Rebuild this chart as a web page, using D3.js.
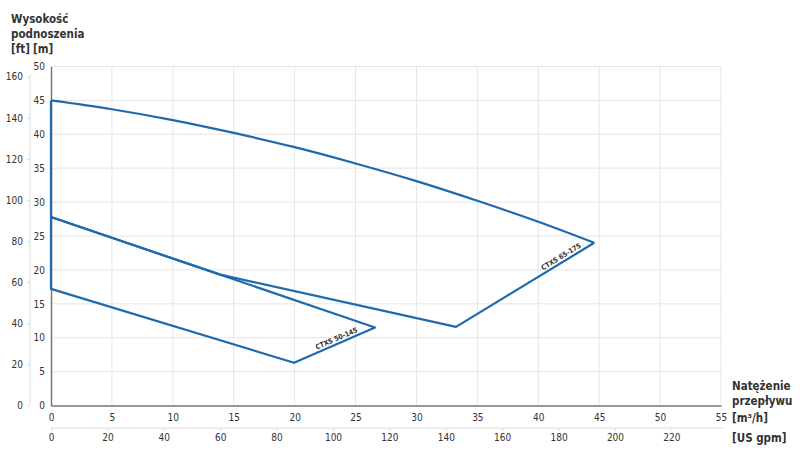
<!DOCTYPE html>
<html>
<head>
<meta charset="utf-8">
<script src="https://cdn.jsdelivr.net/npm/d3@7"></script>
<style>
  body { margin: 0; background: #fff; }
  svg { display: block; }
  text { font-family: "Liberation Sans Narrow", "DejaVu Sans Condensed", "Liberation Sans", sans-serif; fill: #333; }
</style>
</head>
<body>
<svg id="chart" width="800" height="462"></svg>
<script>
// ---- data ----
const flowTicks = [0, 5, 10, 15, 20, 25, 30, 35, 40, 45, 50, 55];      // m3/h
const headTicks = [0, 5, 10, 15, 20, 25, 30, 35, 40, 45, 50];          // m
const ftTicks = [0, 20, 40, 60, 80, 100, 120, 140, 160];               // ft
const gpmTicks = [0, 20, 40, 60, 80, 100, 120, 140, 160, 180, 200, 220]; // US gpm
const FT_PER_M = 3.3;
const GPM_PER_M3H = 4.32;

// CTXS 65-175 top curve (flow m3/h, head m)
const curve65Flow = [0, 5, 10, 15, 20, 25, 30, 35, 40, 44.6];
const curve65Head = [45, 43.7, 42.1, 40.2, 38.1, 35.7, 33.1, 30.2, 27.1, 24.0];
// CTXS 65-175 remaining outline
const outline65Flow = [44.6, 33.25, 13.9, 0, 0];
const outline65Head = [24.0, 11.6, 19.3, 27.8, 45];
// CTXS 50-145 outline
const outline50Flow = [0, 26.6, 19.95, 0, 0];
const outline50Head = [27.8, 11.5, 6.3, 17.2, 27.8];

const labels = ["CTXS 65-175", "CTXS 50-145"];

// ---- layout ----
const svg = d3.select("#chart");
const x0 = 51, x1 = 721, y0 = 405.5, y1 = 66.5;
const x = d3.scaleLinear().domain([0, 55]).range([x0, x1]);
const y = d3.scaleLinear().domain([0, 50]).range([y0, y1]);
const yFt = d3.scaleLinear().domain([0, 50 * FT_PER_M]).range([y0, y1]);
const xGpm = d3.scaleLinear().domain([0, 55 * GPM_PER_M3H]).range([x0, x1]);

const blue = "#1f6aad";

// grid
const grid = svg.append("g");
grid.selectAll("line.v").data(flowTicks.filter(d => d > 0)).join("line")
  .attr("x1", d => x(d)).attr("x2", d => x(d)).attr("y1", y(50)).attr("y2", y(0))
  .attr("stroke", "#e6e6e6").attr("stroke-width", 1);
grid.selectAll("line.h").data(headTicks.filter(d => d > 0)).join("line")
  .attr("x1", x(0)).attr("x2", x(55)).attr("y1", d => y(d)).attr("y2", d => y(d))
  .attr("stroke", "#e6e6e6").attr("stroke-width", 1);

// m axis
const yAxis = svg.append("g").attr("transform", `translate(${x0},0)`)
  .call(d3.axisLeft(y).tickValues(headTicks).tickSize(0).tickPadding(6));
yAxis.select(".domain").attr("stroke", "#777").attr("stroke-width", 1.5);
yAxis.selectAll("text").style("font-size", "10px").attr("fill", "#333");

// ft axis
const ftAxis = svg.append("g").attr("transform", `translate(30,0)`)
  .call(d3.axisLeft(yFt).tickValues(ftTicks).tickSize(3).tickPadding(4));
ftAxis.select(".domain").attr("stroke", "#ddd").attr("d", `M0,${y1 + 8}V${y0}`);
ftAxis.selectAll(".tick line").attr("stroke", "#ddd");
ftAxis.selectAll("text").style("font-size", "10px").attr("fill", "#333");

// x axis m3/h
const xAxis = svg.append("g").attr("transform", `translate(0,${y0})`)
  .call(d3.axisBottom(x).tickValues(flowTicks).tickSize(0).tickPadding(8));
xAxis.select(".domain").attr("stroke", "#777").attr("stroke-width", 1.5);
xAxis.selectAll("text").style("font-size", "10px").attr("fill", "#333");

// x axis gpm
const gpmAxis = svg.append("g").attr("transform", `translate(0,428)`)
  .call(d3.axisBottom(xGpm).tickValues(gpmTicks).tickSize(3).tickPadding(3));
gpmAxis.select(".domain").attr("stroke", "#ddd").attr("d", `M${x0},0H${x1 + 2}`);
gpmAxis.selectAll(".tick line").attr("stroke", "#ddd");
gpmAxis.selectAll("text").style("font-size", "10px").attr("fill", "#333");

// curves
const zip = (a, b) => a.map((v, i) => [v, b[i]]);
const lineLin = d3.line().x(d => x(d[0])).y(d => y(d[1]));
const lineCurve = d3.line().x(d => x(d[0])).y(d => y(d[1])).curve(d3.curveMonotoneX);

const marks = svg.append("g").attr("fill", "none").attr("stroke", blue)
  .attr("stroke-width", 2.2).attr("stroke-linejoin", "round");
marks.append("path").attr("d", lineCurve(zip(curve65Flow, curve65Head)));
marks.append("path").attr("d", lineLin(zip(outline65Flow, outline65Head)));
marks.append("path").attr("d", lineLin(zip(outline50Flow, outline50Head)));

// series labels along edges
function edgeLabel(p, q, t, offset, text) {
  const ax = x(p[0]), ay = y(p[1]), bx = x(q[0]), by = y(q[1]);
  const mx = ax + (bx - ax) * t, my = ay + (by - ay) * t;
  const ang = Math.atan2(by - ay, bx - ax) * 180 / Math.PI;
  svg.append("text")
    .attr("transform", `translate(${mx},${my}) rotate(${ang}) translate(0,${-offset})`)
    .attr("text-anchor", "middle")
    .style("font-size", "7px").style("font-weight", "bold").attr("fill", "#222")
    .text(text);
}
edgeLabel([outline65Flow[1], outline65Head[1]], [outline65Flow[0], outline65Head[0]], 0.78, 3, labels[0]);
edgeLabel([outline50Flow[2], outline50Head[2]], [outline50Flow[1], outline50Head[1]], 0.55, 3, labels[1]);

// axis titles
const title = svg.append("g").style("font-size", "11.5px").style("font-weight", "bold");
title.append("text").attr("x", 11).attr("y", 23).text("Wysokość");
title.append("text").attr("x", 11).attr("y", 38).text("podnoszenia");
title.append("text").attr("x", 11).attr("y", 53).text("[ft]");
title.append("text").attr("x", 33).attr("y", 53).text("[m]");

title.append("text").attr("x", 732).attr("y", 390).text("Natężenie");
title.append("text").attr("x", 732).attr("y", 405).text("przepływu");
title.append("text").attr("x", 732).attr("y", 422).text("[m³/h]");
title.append("text").attr("x", 732).attr("y", 442).text("[US gpm]");
</script>
</body>
</html>
